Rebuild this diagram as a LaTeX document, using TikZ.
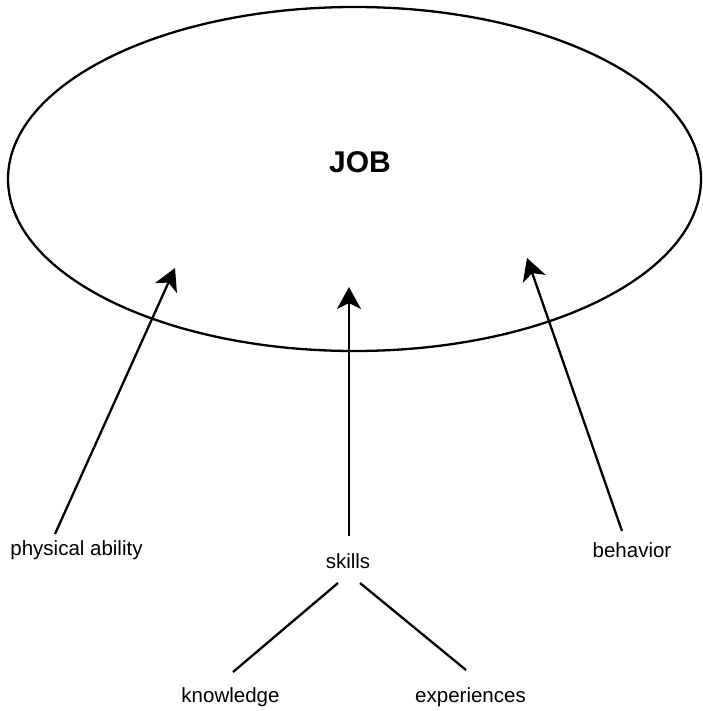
\documentclass[tikz,border=0pt]{standalone}
\usepackage{fontspec}
\setmainfont{Liberation Sans}
\usetikzlibrary{arrows.meta}
\begin{document}
\begin{tikzpicture}[x=1pt,y=-1pt,
  label/.style={inner sep=0pt, font=\fontsize{20.5}{24}\selectfont},
  title/.style={inner sep=0pt, font=\fontsize{30}{36}\selectfont\bfseries},
  outline/.style={line width=2.3pt},
  feed/.style={line width=2.3pt, -{Stealth[length=22pt,width=24pt,inset=6pt]}},
  link/.style={line width=2.3pt}]
  \useasboundingbox (0,0) rectangle (702,711);

  % the job itself
  \draw[outline] (354.5,179) ellipse [x radius=346.5, y radius=172];
  \node[title] (job) at (360,162) {JOB};

  % contributing factors
  \node[label] (phys) at (76.5,550) {physical ability};
  \node[label] (skills) at (348,561) {skills};
  \node[label] (behav) at (632,550) {behavior};
  \node[label] (know) at (230.5,697) {knowledge};
  \node[label] (exper) at (470.5,697) {experiences};

  % arrow ends inside the ellipse
  \coordinate (physTip) at (175,268);
  \coordinate (skillsTip) at (349,287);
  \coordinate (behavTip) at (527,258);

  % arrow starts just above each label
  \coordinate (physFoot) at (55,534);
  \coordinate (skillsFoot) at (349,536);
  \coordinate (behavFoot) at (622,531);

  \draw[feed] (physFoot) -- (physTip);
  \draw[feed] (skillsFoot) -- (skillsTip);
  \draw[feed] (behavFoot) -- (behavTip);

  % skills branch into knowledge and experiences
  \coordinate (skillsL) at (338,583);
  \coordinate (skillsR) at (360,583);
  \coordinate (knowTop) at (233,672);
  \coordinate (experTop) at (466,670);
  \draw[link] (skillsL) -- (knowTop);
  \draw[link] (skillsR) -- (experTop);
\end{tikzpicture}
\end{document}
